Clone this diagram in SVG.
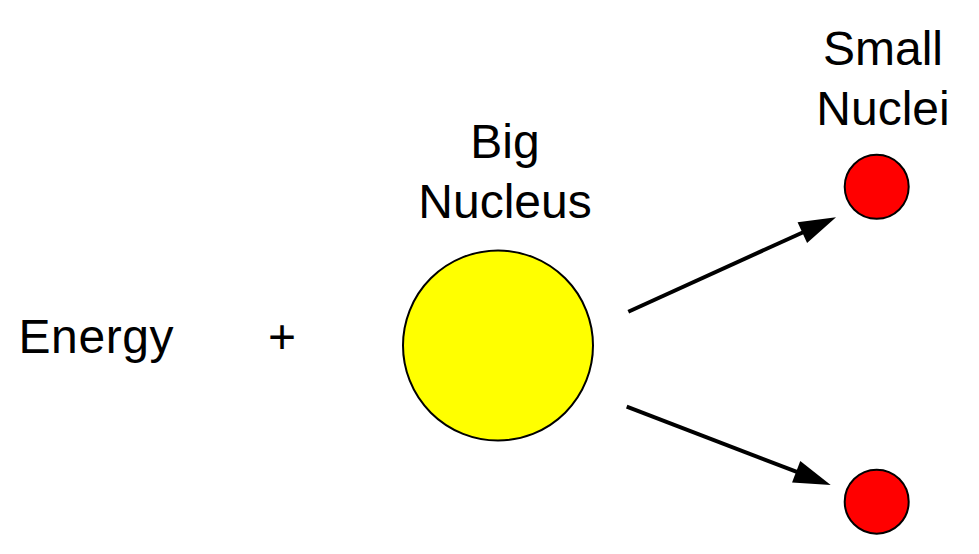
<svg xmlns="http://www.w3.org/2000/svg" width="979" height="554" viewBox="0 0 979 554">
  <style>
    .lbl { font-family: "Liberation Sans", Arial, sans-serif; font-size: 48px; fill: #000; }
    .mid { text-anchor: middle; }
    .nuc { stroke: #000; stroke-width: 2; }
    .conn { stroke: #000; stroke-width: 4; fill: none; marker-end: url(#arrow); }
  </style>
  <defs>
    <marker id="arrow" markerUnits="userSpaceOnUse" markerWidth="37" markerHeight="23" refX="7" refY="11.5" orient="auto" overflow="visible">
      <path d="M0,0 L37,11.5 L0,23 Z" fill="#000"/>
    </marker>
  </defs>
  <rect width="979" height="554" fill="#fff"/>
  <g id="energy">
    <text class="lbl" x="18.5" y="353" letter-spacing="0.6">Energy</text>
  </g>
  <g id="plus">
    <text class="lbl mid" x="282" y="353">+</text>
  </g>
  <g id="big-nucleus">
    <circle class="nuc" cx="498" cy="345.5" r="95" fill="#ffff00"/>
    <text class="lbl mid" x="505" y="158">Big</text>
    <text class="lbl mid" x="505" y="217.5">Nucleus</text>
  </g>
  <g id="small-nucleus-top">
    <circle class="nuc" cx="876.7" cy="186.8" r="32" fill="#ff0000"/>
    <text class="lbl mid" x="883" y="65">Small</text>
    <text class="lbl mid" x="883" y="125">Nuclei</text>
  </g>
  <g id="small-nucleus-bottom">
    <circle class="nuc" cx="876.7" cy="501.7" r="32" fill="#ff0000"/>
  </g>
  <g id="connectors">
    <line class="conn" x1="628.3" y1="311.7" x2="808.7" y2="229.7"/>
    <line class="conn" x1="626.7" y1="406.7" x2="802.7" y2="474.2"/>
  </g>
</svg>
